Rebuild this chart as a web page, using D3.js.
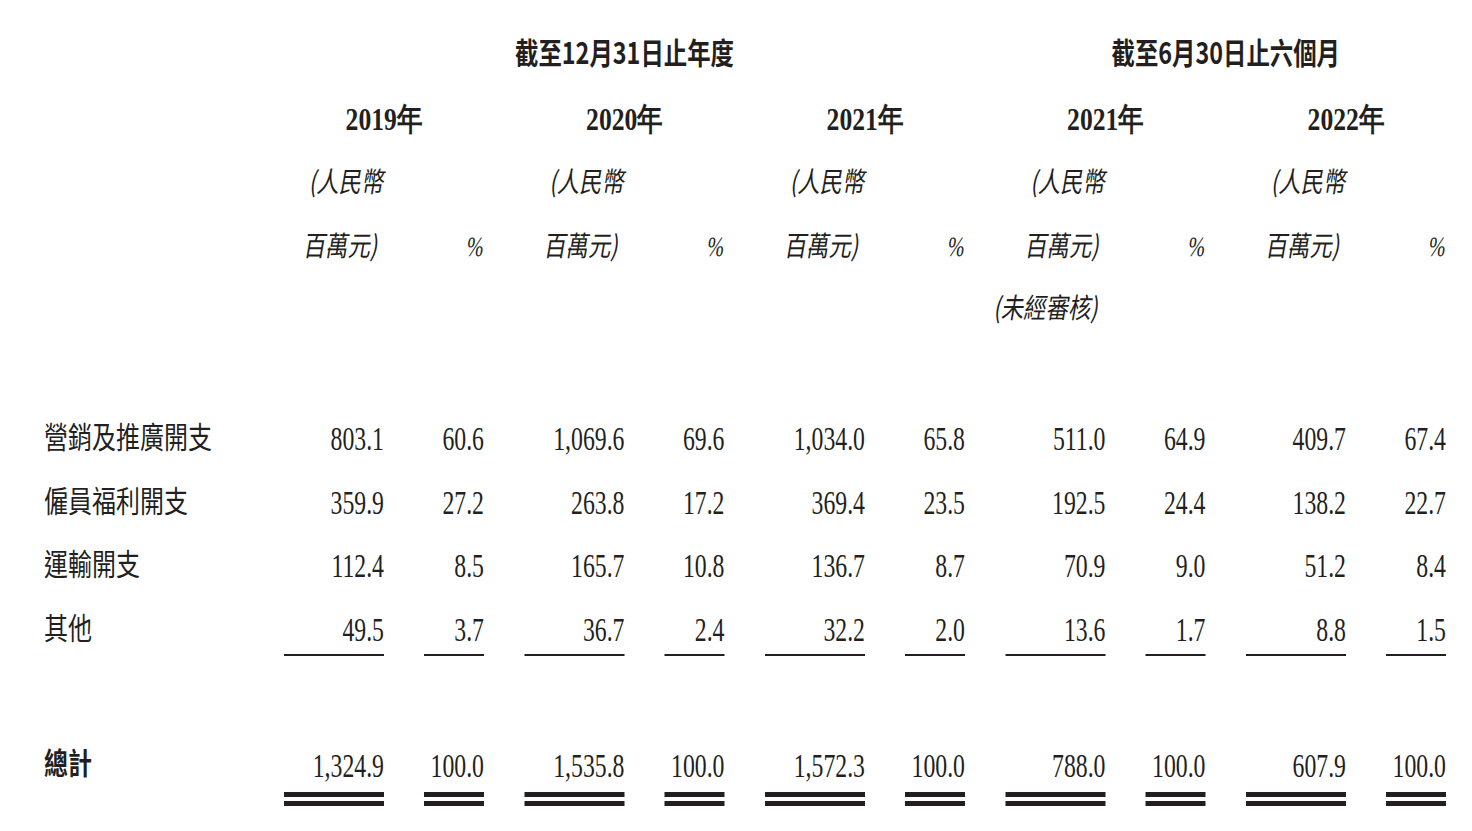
<!DOCTYPE html>
<html><head><meta charset="utf-8">
<script src="https://cdn.jsdelivr.net/npm/d3@7"></script>
<style>body{margin:0;background:#fff}text{fill:#231f20}</style>
</head><body><svg id="c" width="1472" height="831"></svg>
<script>
// data
const periods = ['2019年','2020年','2021年','2021年','2022年'];
const groups = [{label:'截至12月31日止年度', from:0, to:2}, {label:'截至6月30日止六個月', from:3, to:4}];
const rows = ['營銷及推廣開支','僱員福利開支','運輸開支','其他'];
const amounts = [
  ['803.1','1,069.6','1,034.0','511.0','409.7'],
  ['359.9','263.8','369.4','192.5','138.2'],
  ['112.4','165.7','136.7','70.9','51.2'],
  ['49.5','36.7','32.2','13.6','8.8']];
const pcts = [
  ['60.6','69.6','65.8','64.9','67.4'],
  ['27.2','17.2','23.5','24.4','22.7'],
  ['8.5','10.8','8.7','9.0','8.4'],
  ['3.7','2.4','2.0','1.7','1.5']];
const totalAmt = ['1,324.9','1,535.8','1,572.3','788.0','607.9'];
const totalPct = ['100.0','100.0','100.0','100.0','100.0'];

const svg = d3.select('#c');
const x = d3.scaleLinear().domain([0,4]).range([384,1346]); // right edge of amount column
const y = d3.scalePoint().domain(rows).range([438,629]);
const serif = 'Liberation Serif, DejaVu Serif, serif';
const cjk = 'Noto Sans CJK TC, Noto Sans CJK SC, sans-serif';

function t(xx, yy, str, opt){
  opt = opt || {};
  return svg.append('text')
    .attr('transform', `translate(${xx},${yy}) scale(${opt.sx||0.72},1)` + (opt.italic ? ' skewX(-12)' : ''))
    .attr('text-anchor', opt.anchor || 'end')
    .attr('font-family', opt.font || serif)
    .attr('font-size', opt.size || 31)
    .attr('font-weight', opt.bold ? 'bold' : 'normal')
    .text(str);
}

groups.forEach(g => t((x(g.from)+x(g.to))/2, 64, g.label, {anchor:'middle', bold:true, size:30, font:cjk, sx:0.78}));
periods.forEach((p,i) => {
  t(x(i), 130, p, {anchor:'middle', bold:true, size:32, sx:0.8});
  t(x(i)-38, 192, '(人民幣', {anchor:'middle', size:28, font:cjk, italic:true, sx:0.8});
  t(x(i)-44, 256, '百萬元)', {anchor:'middle', size:28, font:cjk, italic:true, sx:0.8});
  t(x(i)+90, 256, '%', {anchor:'middle', size:28, italic:true});
});
t(x(3)-60, 318, '(未經審核)', {anchor:'middle', size:28, font:cjk, italic:true, sx:0.8});

rows.forEach((r,ri) => {
  t(44, y(r)+10, r, {anchor:'start', font:cjk, size:30, sx:0.8});
  periods.forEach((p,i) => {
    t(x(i), y(r)+12, amounts[ri][i], {size:33});
    t(x(i)+100, y(r)+12, pcts[ri][i], {size:33});
  });
});
t(44, 774, '總計', {anchor:'start', font:cjk, size:30, bold:true, sx:0.8});
periods.forEach((p,i) => {
  t(x(i), 777, totalAmt[i], {size:33});
  t(x(i)+100, 777, totalPct[i], {size:33});
  [[x(i)-100, x(i)], [x(i)+40, x(i)+100]].forEach(([a,b]) => {
    svg.append('rect').attr('x',a).attr('y',654).attr('width',b-a).attr('height',2).attr('fill','#231f20');
    svg.append('rect').attr('x',a).attr('y',792).attr('width',b-a).attr('height',5).attr('fill','#231f20');
    svg.append('rect').attr('x',a).attr('y',801).attr('width',b-a).attr('height',5).attr('fill','#231f20');
  });
});
</script></body></html>
